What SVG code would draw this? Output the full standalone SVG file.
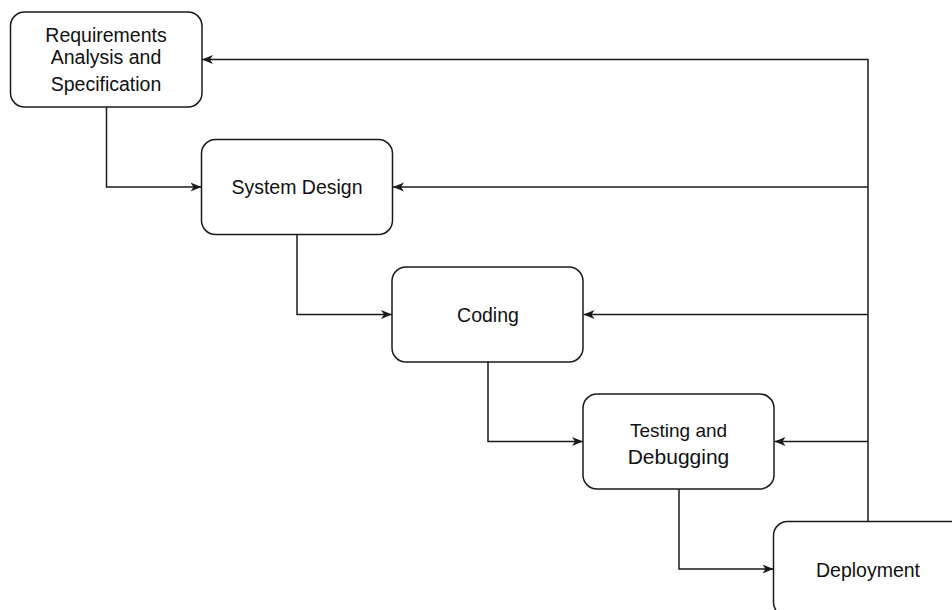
<svg xmlns="http://www.w3.org/2000/svg" width="952" height="610" viewBox="0 0 952 610">
<style>
.box{fill:#fff;stroke:#1a1a1a;stroke-width:1.5}
.t{font-family:"Liberation Sans",Arial,Helvetica,sans-serif;font-size:19.5px;fill:#111;text-anchor:middle}
.c{fill:none;stroke:#1a1a1a;stroke-width:1.5}
</style>
<defs>
<marker id="a" markerUnits="userSpaceOnUse" markerWidth="12" markerHeight="10" refX="11" refY="5" orient="auto">
<path d="M0,0.5 L11,5 L0,9.5 L3,5 Z" fill="#1a1a1a"/>
</marker>
</defs>
<rect width="952" height="610" fill="#fff"/>
<g id="connectors">
<path class="c" d="M106.5,107 V187 H201.5" marker-end="url(#a)"/>
<path class="c" d="M297,234.5 V314.5 H392" marker-end="url(#a)"/>
<path class="c" d="M488,362 V441.5 H583" marker-end="url(#a)"/>
<path class="c" d="M679,489 V569 H773.5" marker-end="url(#a)"/>
<path class="c" d="M868,521.5 V59.5 H202" marker-end="url(#a)"/>
<path class="c" d="M868,187 H393" marker-end="url(#a)"/>
<path class="c" d="M868,314.5 H583.5" marker-end="url(#a)"/>
<path class="c" d="M868,441.5 H774.5" marker-end="url(#a)"/>
</g>
<g id="requirements">
<rect class="box" x="10.5" y="12" width="191.5" height="95" rx="14"/>
<text class="t" x="106" y="41.5">Requirements</text>
<text class="t" x="106" y="63.5">Analysis and</text>
<text class="t" x="106" y="90.5">Specification</text>
</g>
<g id="system-design">
<rect class="box" x="201.5" y="139.5" width="191" height="95" rx="14"/>
<text class="t" x="297" y="194">System Design</text>
</g>
<g id="coding">
<rect class="box" x="392" y="267" width="191" height="95" rx="14"/>
<text class="t" x="488" y="321.5">Coding</text>
</g>
<g id="testing">
<rect class="box" x="583" y="394" width="191" height="95" rx="14"/>
<text class="t" x="678.5" y="436.5" style="font-size:19px">Testing and</text>
<text class="t" x="678.5" y="464" style="font-size:21px">Debugging</text>
</g>
<g id="deployment">
<rect class="box" x="773.5" y="521.5" width="191" height="95" rx="14"/>
<text class="t" x="868" y="576.5">Deployment</text>
</g>
</svg>
